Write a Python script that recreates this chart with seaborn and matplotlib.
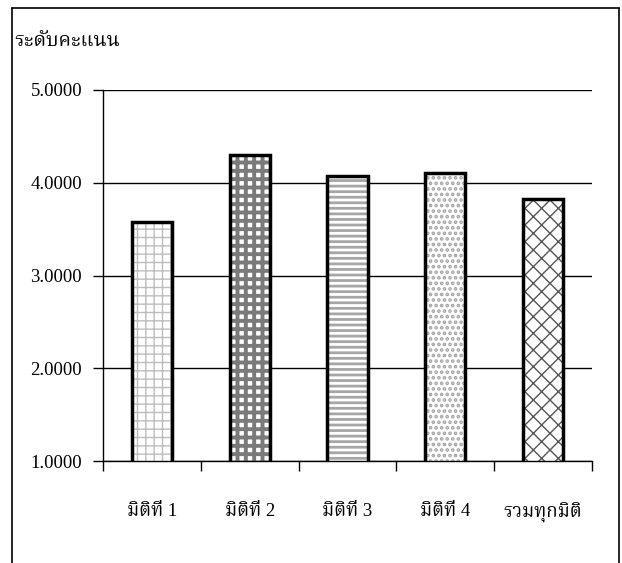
import matplotlib
matplotlib.use("Agg")
import matplotlib.pyplot as plt
import seaborn as sns
from matplotlib import font_manager
from matplotlib.ft2font import FT2Font
from matplotlib.lines import Line2D
from matplotlib.ticker import FixedLocator, FormatStrFormatter

categories = ["มิติที่ 1", "มิติที่ 2", "มิติที่ 3", "มิติที่ 4", "รวมทุกมิติ"]
values = [3.58, 4.30, 4.07, 4.10, 3.83]
y_ticks = [1, 2, 3, 4, 5]
y_label = "ระดับคะแนน"

hatches = ["++", "++", "---", "...", "xx"]
hatch_colors = ["#BDBDBD", "#7A7A7A", "#A6A6A6", "#A6A6A6", "#555555"]
hatch_lws = [1.0, 2.8, 2.0, 1.8, 1.0]


def find_thai_font():
    found = []
    for f in font_manager.fontManager.ttflist:
        try:
            cm = FT2Font(f.fname).get_charmap()
        except Exception:
            continue
        if 0x0E23 in cm and 0x0E34 in cm and 0x0E48 in cm:
            found.append(f.name)
    prefs = ["Noto Serif Thai", "Norasi", "Laksaman", "TH Sarabun New", "Tlwg Typo",
             "Loma", "Garuda", "Noto Sans Thai", "Noto Sans Thai Looped"]
    for p in prefs:
        if p in found:
            return p
    return found[0] if found else None


sns.set_theme(style="white")
thai = find_thai_font()
fam = ["Liberation Serif"] + ([thai] if thai else []) + ["DejaVu Sans"]
plt.rcParams["font.family"] = fam

fig = plt.figure(figsize=(6.22, 5.63), dpi=100)
ax = fig.add_axes([103 / 622, 1 - 461 / 563, (592 - 103) / 622, (461 - 90) / 563])

# hatch layer
sns.barplot(x=categories, y=values, color="white", width=0.41, saturation=1,
            linewidth=0, ax=ax, zorder=2)
for p, h, c, lw in zip(ax.patches, hatches, hatch_colors, hatch_lws):
    p.set_facecolor("white")
    p.set_edgecolor(c)
    if hasattr(p, "set_hatchcolor"):
        p.set_hatchcolor(c)
    p.set_hatch(h)
    p.set_linewidth(0)
    if hasattr(p, "set_hatch_linewidth"):
        p.set_hatch_linewidth(lw)

# outline layer
sns.barplot(x=categories, y=values, color="black", fill=False, width=0.41,
            linewidth=2.5, ax=ax, zorder=3)

ax.set_ylim(1, 5)
ax.set_xlim(-0.5, len(categories) - 0.5)
ax.yaxis.set_major_locator(FixedLocator(y_ticks))
ax.yaxis.set_major_formatter(FormatStrFormatter("%.4f"))
ax.grid(axis="y", color="black", linewidth=1.0, zorder=0)
ax.set_axisbelow(True)

for s in ["top", "right"]:
    ax.spines[s].set_visible(False)
for s in ["left", "bottom"]:
    ax.spines[s].set_visible(True)
    ax.spines[s].set_color("black")
    ax.spines[s].set_linewidth(1.0)

ax.tick_params(axis="y", which="major", direction="out", length=7, width=1.0,
               color="black", left=True, pad=8, labelsize=13.5, labelcolor="black")

ax.xaxis.set_minor_locator(FixedLocator([i - 0.5 for i in range(len(categories) + 1)]))
ax.tick_params(axis="x", which="minor", direction="out", length=7, width=1.0,
               color="black", bottom=True)
ax.tick_params(axis="x", which="major", length=0, pad=30, labelsize=13.5, labelcolor="black")
ax.set_xlabel("")
ax.set_ylabel("")

fig.text(14 / 622, 1 - 41 / 563, y_label, fontsize=14.3, ha="left", va="center",
         color="black")

# outer frame (cropped at bottom)
fx0, fx1, fy = 12 / 622, 619 / 622, 1 - 8 / 563
fig.add_artist(Line2D([fx0, fx0], [0, fy], color="black", lw=1.2, transform=fig.transFigure))
fig.add_artist(Line2D([fx0, fx1], [fy, fy], color="black", lw=1.2, transform=fig.transFigure))
fig.add_artist(Line2D([fx1, fx1], [0, fy], color="black", lw=1.2, transform=fig.transFigure))

fig.savefig("out.png", dpi=100, facecolor="white")
